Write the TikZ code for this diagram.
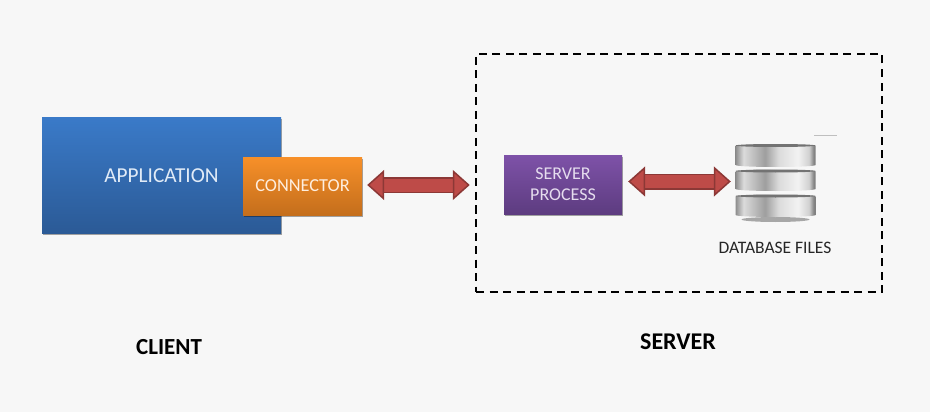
\documentclass[tikz,border=0pt]{standalone}
\usepackage{fontspec}
\setmainfont{Carlito}
\usetikzlibrary{arrows.meta}
\usetikzlibrary{shadows}
\definecolor{pagegray}{HTML}{F7F7F7}
\definecolor{appblue}{HTML}{3A7AC8}
\definecolor{appbluedark}{HTML}{2B5A96}
\definecolor{connorange}{HTML}{F79029}
\definecolor{connorangedark}{HTML}{C46E1C}
\definecolor{procpurple}{HTML}{7E52A8}
\definecolor{procpurpledark}{HTML}{5D3C80}
\definecolor{arrowred}{HTML}{BE4B48}
\definecolor{arrowdark}{HTML}{8C3836}
\pgfdeclarehorizontalshading{discmetal}{100bp}{color(0bp)=(black!45); color(25bp)=(black!45); color(30bp)=(black!14); color(43.5bp)=(black!38); color(52bp)=(black!14); color(64bp)=(black!5); color(71bp)=(black!18); color(74bp)=(black!50); color(100bp)=(black!50)}
\tikzset{
  boxshadow/.style={drop shadow={shadow xshift=0.5pt,shadow yshift=-1.5pt,opacity=.35,fill=black}},
  colorbox/.style 2 args={top color=#1,bottom color=#2,boxshadow,inner sep=0pt,align=center},
  boxlabel/.style={font=\fontsize{#1}{21}\selectfont},
  twoway/.style={draw=arrowdark,line width=1.5pt,double=arrowred,double distance=13pt,
    {Triangle[length=17pt,width=30pt,fill=arrowred]}-{Triangle[length=17pt,width=30pt,fill=arrowred]}},
  dbdisc/.style={shading=discmetal}
}
\begin{document}
\begin{tikzpicture}[x=1pt,y=-1pt]
\useasboundingbox[fill=pagegray] (0,0) rectangle (930,412);
% client side
\node[colorbox={appblue}{appbluedark},minimum width=239pt,minimum height=115pt,text=white!85!appblue,boxlabel=21.3] (application) at (161.5,175.5) {APPLICATION};
\node[colorbox={connorange}{connorangedark},minimum width=119pt,minimum height=58pt,text=white!85!connorange,boxlabel=18.3] (connector) at (302.5,186) {CONNECTOR};
\node[boxlabel=23] (client) at (169,347) {\textbf{CLIENT}};
% server side
\node[draw,line width=2.5pt,dash pattern=on 8pt off 5.5pt,minimum width=406pt,minimum height=238pt] (serverframe) at (679,173) {};
\node[colorbox={procpurple}{procpurpledark},minimum width=118pt,minimum height=59pt,text=white!80!procpurple,boxlabel=18] (serverprocess) at (563,184.5) {SERVER\\PROCESS};
\node[minimum width=79pt,minimum height=79pt,inner sep=0pt] (databasefiles) at (775.5,182.5) {};
\path[fill=black!60,opacity=.55] (775.5,219.5) ellipse (34 and 2.5);
\foreach \disctop/\discbot in {194.5/217,169.5/191,144/167}{
  \path[dbdisc] (735.5,\disctop+2) -- (735.5,\discbot-2) arc (180:0:40 and 2) -- (815.5,\disctop+2) arc (360:180:40 and 2) -- cycle;
  \path[fill=black!55] (775.5,\disctop+1.5) ellipse (40 and 1.5);
}
\draw[black!25,line width=.6pt] (814,135) -- (837,135);
\node[boxlabel=17.5,text=black!85] (databaselabel) at (775,248) {DATABASE FILES};
\node[boxlabel=24] (server) at (678,342) {\textbf{SERVER}};
% links
\draw[twoway,shorten <=5pt,shorten >=5pt] ([yshift=1pt]connector.center -| connector.east) -- ([yshift=1pt]connector.center -| serverframe.west);
\draw[twoway,shorten <=6pt,shorten >=5pt] ([yshift=3pt]serverprocess.east) -- ([yshift=3pt]serverprocess.east -| databasefiles.west);
\end{tikzpicture}
\end{document}
